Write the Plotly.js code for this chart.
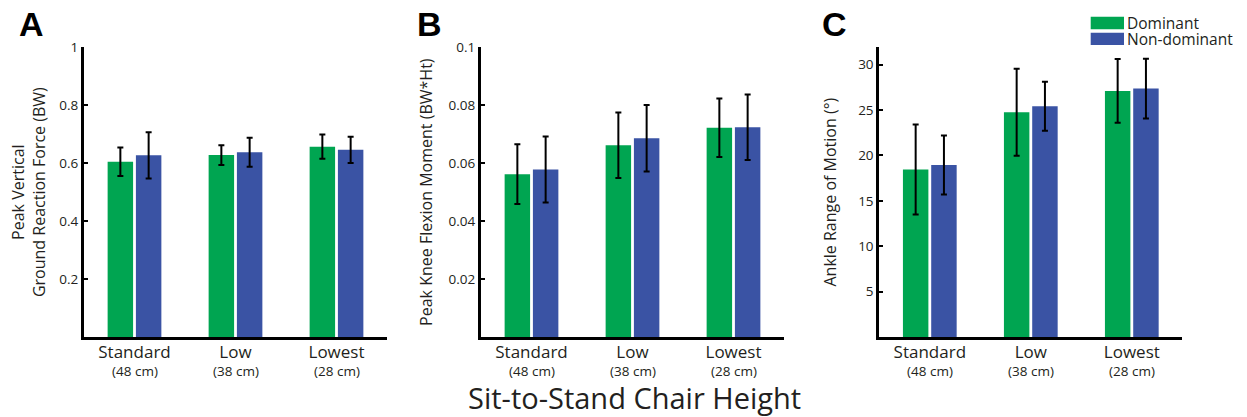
<!DOCTYPE html>
<html>
<head>
<meta charset="utf-8">
<script src="https://cdn.plot.ly/plotly-3.0.1.min.js"></script>
<style>html,body{margin:0;padding:0;background:#fff;}</style>
</head>
<body>
<div id="chart" style="width:1247px;height:417px;"></div>
<script>
// ---- data ----
const categories = ['Standard', 'Low', 'Lowest'];
const heightLabels = ['(48 cm)', '(38 cm)', '(28 cm)'];
const seriesNames = ['Dominant', 'Non-dominant'];

// Panel A: Peak vertical GRF (BW)
const grfDominant = [0.605, 0.628, 0.657];
const grfDominantErr = [0.049, 0.034, 0.042];
const grfNonDominant = [0.627, 0.638, 0.646];
const grfNonDominantErr = [0.080, 0.050, 0.045];

// Panel B: Peak knee flexion moment (BW*Ht)
const kneeDominant = [0.0562, 0.0662, 0.0722];
const kneeDominantErr = [0.0103, 0.0113, 0.0101];
const kneeNonDominant = [0.0578, 0.0686, 0.0724];
const kneeNonDominantErr = [0.0114, 0.0115, 0.0113];

// Panel C: Ankle range of motion (deg)
const ankleDominant = [18.45, 24.75, 27.1];
const ankleDominantErr = [4.95, 4.8, 3.5];
const ankleNonDominant = [18.95, 25.4, 27.35];
const ankleNonDominantErr = [3.25, 2.7, 3.3];

const yTicksA = [0.2, 0.4, 0.6, 0.8, 1];
const yTicksB = [0.02, 0.04, 0.06, 0.08, 0.1];
const yTicksC = [5, 10, 15, 20, 25, 30];

// ---- layout helpers ----
const W = 1247, H = 417;
const px = v => v / W;
const py = v => 1 - v / H;
const GREEN = '#00a551';
const BLUE = '#3a53a4';
const FONT = 'Open Sans, Noto Sans, sans-serif';
const TXT = '#231f20';

function barTrace(y, err, name, color, xa, ya) {
  return {
    type: 'bar', x: categories, y: y, name: name, xaxis: xa, yaxis: ya,
    marker: {color: color, line: {width: 0}},
    error_y: {type: 'data', array: err, visible: true, color: '#000', thickness: 2, width: 3},
    showlegend: false, hoverinfo: 'skip'
  };
}

const data = [
  barTrace(grfDominant, grfDominantErr, seriesNames[0], GREEN, 'x', 'y'),
  barTrace(grfNonDominant, grfNonDominantErr, seriesNames[1], BLUE, 'x', 'y'),
  barTrace(kneeDominant, kneeDominantErr, seriesNames[0], GREEN, 'x2', 'y2'),
  barTrace(kneeNonDominant, kneeNonDominantErr, seriesNames[1], BLUE, 'x2', 'y2'),
  barTrace(ankleDominant, ankleDominantErr, seriesNames[0], GREEN, 'x3', 'y3'),
  barTrace(ankleNonDominant, ankleNonDominantErr, seriesNames[1], BLUE, 'x3', 'y3')
];

function xAxis(d0, d1, anchor) {
  return {
    domain: [px(d0), px(d1)], anchor: anchor, type: 'category',
    range: [-0.5, 2.5], showline: true, linewidth: 3, linecolor: '#000',
    ticks: '', showgrid: false, zeroline: false,
    tickmode: 'array', tickvals: categories, ticktext: categories,
    ticklabelstandoff: -2,
    tickfont: {family: FONT, size: 17, color: TXT}, fixedrange: true
  };
}
function yAxis(anchor, range, tickvals, title, standoff) {
  return {
    domain: [py(337), py(47.3)], anchor: anchor, range: range,
    showline: true, linewidth: 3, linecolor: '#000',
    ticks: 'inside', ticklen: 4, tickwidth: 2, tickcolor: '#000',
    tickmode: 'array', tickvals: tickvals,
    showgrid: false, zeroline: false,
    tickfont: {family: FONT, size: 13.5, color: TXT},
    title: {text: title, font: {family: FONT, size: 16, color: TXT}, standoff: standoff},
    automargin: false, fixedrange: true
  };
}

const heightAnn = [];
['x', 'x2', 'x3'].forEach(function (xr) {
  categories.forEach(function (c, i) {
    heightAnn.push({text: heightLabels[i], x: c, xref: xr, y: py(371), yref: 'paper',
      xanchor: 'center', yanchor: 'middle', showarrow: false,
      font: {family: FONT, size: 13.5, color: TXT}});
  });
});

const letterFont = {family: 'Liberation Sans, Arial, sans-serif', size: 34, color: '#000', weight: 'bold'};
const legendFont = {family: FONT, size: 15.5, color: TXT};

const layout = {
  width: W, height: H, autosize: false,
  margin: {l: 0, r: 0, t: 0, b: 0},
  paper_bgcolor: '#fff', plot_bgcolor: 'rgba(0,0,0,0)',
  barmode: 'group', bargap: 0.44, bargroupgap: 0.1,
  font: {family: FONT, color: TXT},
  xaxis: xAxis(84, 387, 'y'),
  yaxis: yAxis('x', [0, 1], yTicksA, 'Peak Vertical<br>Ground Reaction Force (BW)', 10),
  xaxis2: xAxis(481, 784, 'y2'),
  yaxis2: yAxis('x2', [0, 0.1], yTicksB, 'Peak Knee Flexion Moment (BW*Ht)', 12),
  xaxis3: xAxis(879.3, 1182.3, 'y3'),
  yaxis3: yAxis('x3', [0, 31.9], yTicksC, 'Ankle Range of Motion (°)', 18),
  annotations: [
    {text: 'A', x: px(17), y: py(24), xref: 'paper', yref: 'paper', xanchor: 'left', yanchor: 'middle', showarrow: false, font: letterFont},
    {text: 'B', x: px(415), y: py(24), xref: 'paper', yref: 'paper', xanchor: 'left', yanchor: 'middle', showarrow: false, font: letterFont},
    {text: 'C', x: px(820), y: py(24), xref: 'paper', yref: 'paper', xanchor: 'left', yanchor: 'middle', showarrow: false, font: letterFont},
    {text: 'Sit-to-Stand Chair Height', x: px(634), y: py(397), xref: 'paper', yref: 'paper', xanchor: 'center', yanchor: 'middle', showarrow: false,
     font: {family: FONT, size: 29, color: TXT}},
    {text: seriesNames[0], x: px(1126), y: py(22.5), xref: 'paper', yref: 'paper', xanchor: 'left', yanchor: 'middle', showarrow: false,
     height: 15, borderpad: 0, valign: 'middle', font: legendFont},
    {text: seriesNames[1], x: px(1126), y: py(38.8), xref: 'paper', yref: 'paper', xanchor: 'left', yanchor: 'middle', showarrow: false,
     height: 15, borderpad: 0, valign: 'middle', font: legendFont}
  ].concat(heightAnn),
  shapes: [
    {type: 'rect', xref: 'paper', yref: 'paper', x0: px(1090.7), x1: px(1124), y0: py(29.3), y1: py(16.7), fillcolor: GREEN, line: {width: 0}},
    {type: 'rect', xref: 'paper', yref: 'paper', x0: px(1090.7), x1: px(1124), y0: py(45), y1: py(32.7), fillcolor: BLUE, line: {width: 0}}
  ]
};

Plotly.newPlot('chart', data, layout, {displayModeBar: false, staticPlot: true});
</script>
</body>
</html>
